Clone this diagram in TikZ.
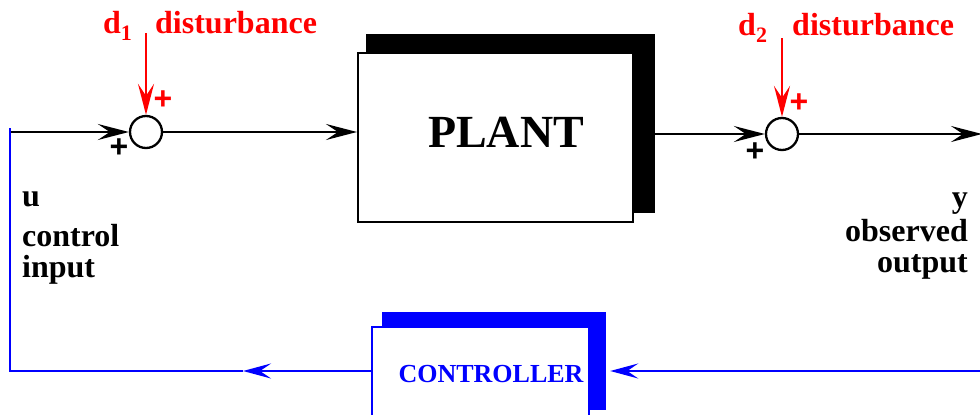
\documentclass[tikz,border=0pt]{standalone}
\usepackage{fontspec}
\setmainfont{Liberation Serif}
\newfontfamily\plusfont{Liberation Sans}
\usetikzlibrary{arrows.meta}
\definecolor{pred}{RGB}{255,0,0}
\definecolor{pblue}{RGB}{0,0,255}
\tikzset{
  tip/.style={-{Stealth[length=31pt,width=16pt,inset=12pt]}},
  btip/.style={-{Stealth[length=28pt,width=15pt,inset=11pt]}},
  sig/.style={line width=2.4pt, black},
  fb/.style={line width=2.8pt, pblue},
  dist/.style={line width=2.5pt, pred},
  sumnode/.style={circle, draw=black, line width=2.3pt, minimum size=32pt, inner sep=0pt, fill=white},
  lbl/.style={inner sep=0pt, font=\bfseries\fontsize{32}{31}\selectfont},
  redlbl/.style={lbl, text=pred},
  plus/.style={inner sep=0pt, font=\plusfont\bfseries\fontsize{32}{32}\selectfont},
  boxnode/.style={rectangle, inner sep=0pt, fill=white},
  shadownode/.style={rectangle, inner sep=0pt},
}
\begin{document}
\begin{tikzpicture}[x=1pt,y=-1pt]
\useasboundingbox (0,0) rectangle (980,415);
% coordinates
\coordinate (utop) at (10,128);
\coordinate (ucorner) at (10,132);
\coordinate (fbcorner) at (10,371);
\coordinate (fbmid) at (243,371);
\coordinate (yend) at (982,134);
\coordinate (fbright) at (982,371);
\coordinate (d1top) at (146,33);
\coordinate (d2top) at (782,38);
% plant
\node[shadownode, fill=black, minimum width=289pt, minimum height=179pt] (plantshadow) at (510.5,123.5) {};
\node[boxnode, draw=black, line width=2pt, minimum width=275pt, minimum height=169pt] (plant) at (495.5,137.5) {};
\node[inner sep=0pt, font=\bfseries\fontsize{46}{46}\selectfont] (plantlabel) at (506,132) {PLANT};
% controller
\node[shadownode, fill=pblue, minimum width=224pt, minimum height=98pt] (ctrlshadow) at (494,361) {};
\node[boxnode, draw=pblue, line width=2.6pt, minimum width=217pt, minimum height=100pt] (ctrl) at (480.5,377) {};
\node[inner sep=0pt, text=pblue, font=\bfseries\fontsize{26}{26}\selectfont] (ctrllabel) at (491,374) {CONTROLLER};
% summing junctions
\node[sumnode] (sum1) at (146,132) {};
\node[sumnode] (sum2) at (782,134) {};
% forward path
\draw[sig, tip] (ucorner) -- (sum1.west);
\draw[sig, tip] (sum1.east) -- (sum1.east -| plant.west);
\draw[sig, tip] (sum2.west -| plantshadow.east) -- (sum2.west);
\draw[sig, tip] (sum2.east) -- (yend);
% disturbances
\draw[dist, tip] (d1top) -- (sum1.north);
\draw[dist, tip] (d2top) -- (sum2.north);
% feedback path
\draw[fb, btip, shorten >=4pt] (fbright) -- (fbright -| ctrlshadow.east);
\draw[fb, btip] (fbmid -| ctrl.west) -- (fbmid);
\draw[fb] (fbmid) -- (fbcorner) -- (utop);
% labels
\node[redlbl, anchor=base west] (d1) at (103,33) {d\raisebox{-7pt}{\fontsize{22}{22}\selectfont 1}};
\node[redlbl, anchor=base west] (dist1) at (155,33) {disturbance};
\node[redlbl, anchor=base west] (d2) at (738,35) {d\raisebox{-7pt}{\fontsize{22}{22}\selectfont 2}};
\node[redlbl, anchor=base west] (dist2) at (792,35) {disturbance};
\node[plus, text=pred] (p1r) at (163,100) {+};
\node[plus] (p1b) at (119,148) {+};
\node[plus, text=pred] (p2r) at (799,103) {+};
\node[plus] (p2b) at (755,152) {+};
\node[lbl, anchor=base west] (ulbl) at (22,206) {u};
\node[lbl, anchor=base west, align=left] (ulbl2) at (22,277) {control\\input};
\node[lbl, anchor=base east] (ylbl) at (968,207) {y};
\node[lbl, anchor=base east, align=right] (ylbl2) at (968,272) {observed\\output};
\end{tikzpicture}
\end{document}
